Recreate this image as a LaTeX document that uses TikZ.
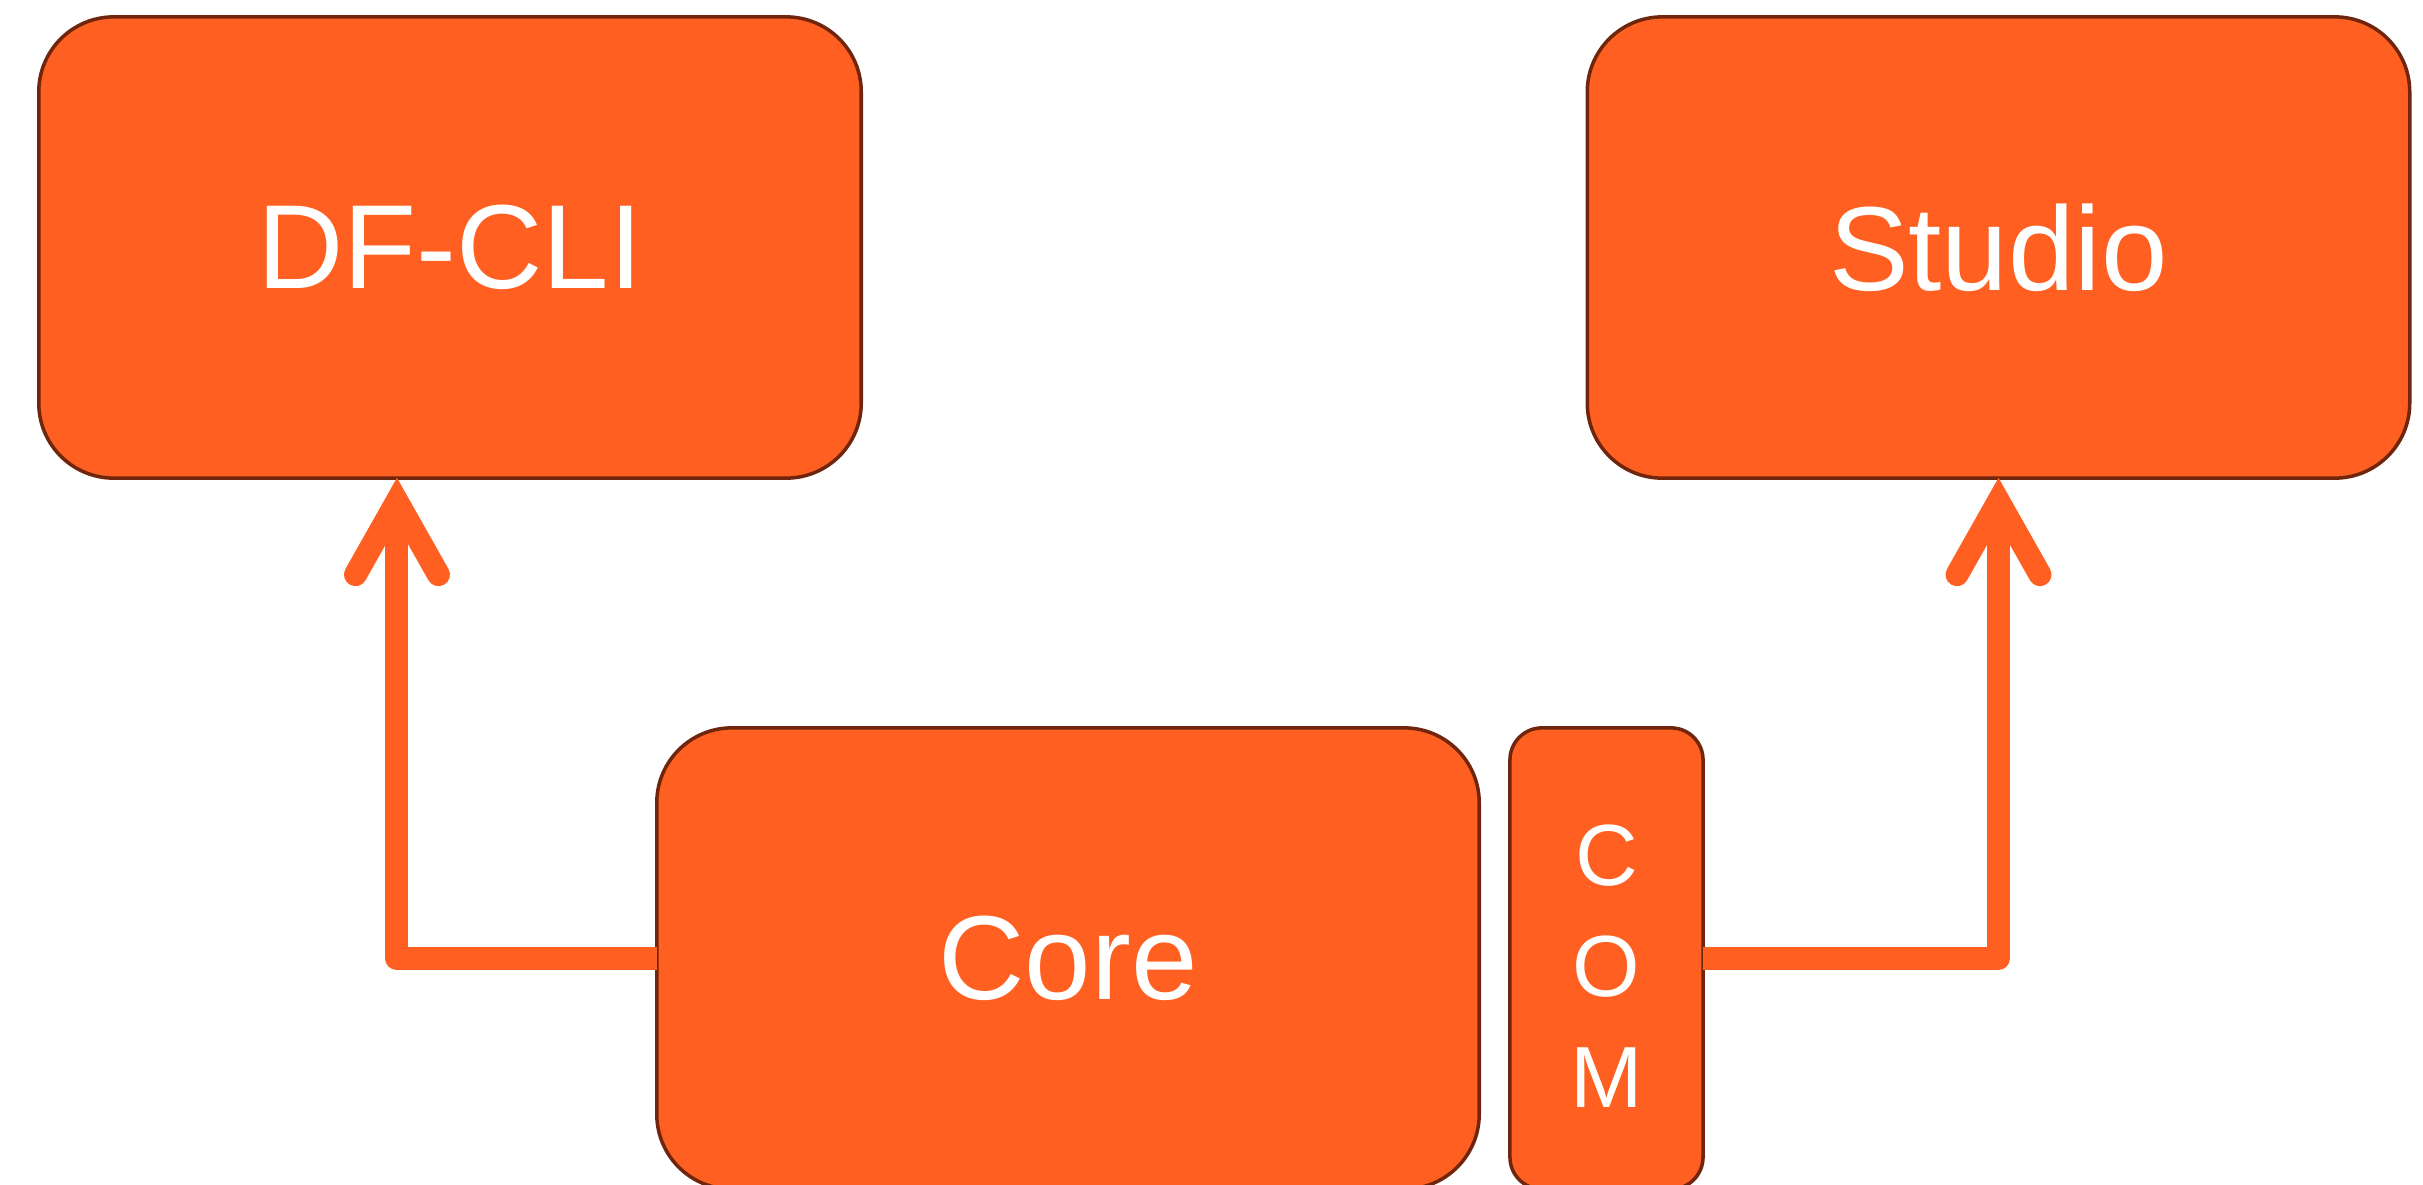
\documentclass[tikz,border=0pt]{standalone}
\usepackage{fontspec}
\setmainfont{Liberation Sans}
\usetikzlibrary{calc}

\definecolor{boxfill}{RGB}{255,96,33}
\definecolor{boxline}{RGB}{112,38,12}

\tikzset{
  block/.style={
    rectangle, rounded corners=0.75cm, draw=boxline, line width=1pt,
    fill=boxfill, text=white, inner sep=0pt, outer sep=0pt,
    minimum width=8.22cm, minimum height=4.61cm,
    font=\fontsize{34}{40}\selectfont
  },
  slimblock/.style={
    block, rounded corners=0.32cm, minimum width=1.93cm
  },
  slimtext/.style={
    text=white, align=center, inner sep=0pt, yshift=-0.08cm,
    font=\fontsize{24.7}{31.6}\selectfont
  },
  link/.style={draw=boxfill, line width=6.54pt, line join=round, line cap=butt},
  barb/.style={draw=boxfill, line width=6.54pt, line join=miter, line cap=round}
}

\begin{document}
\begin{tikzpicture}[x=0.01cm, y=-0.01cm]
  \useasboundingbox (0,0) rectangle (2423,1184);

  % application blocks
  \node[block] (dfcli)  at (450,247.5)    {DF-CLI};
  \node[block] (studio) at (1998.5,247.5) {Studio};
  \node[block] (core)   at (1068,958.5)   {Core};
  \node[slimblock, label={[slimtext]center:C\\O\\M}] (com) at (1606.5,958.5) {};

  % arrow tip points just below the target blocks
  \coordinate (tipL) at ([xshift=-0.53cm, yshift=-0.23cm]dfcli.south);
  \coordinate (tipR) at ([yshift=-0.23cm]studio.south);

  % connectors
  \draw[link] (core.west) -| (tipL);
  \draw[barb] ([shift={(-41.5,73.5)}]tipL) -- (tipL) -- ([shift={(41.5,73.5)}]tipL);

  \draw[link] (com.east) -| (tipR);
  \draw[barb] ([shift={(-41.5,73.5)}]tipR) -- (tipR) -- ([shift={(41.5,73.5)}]tipR);
\end{tikzpicture}
\end{document}
